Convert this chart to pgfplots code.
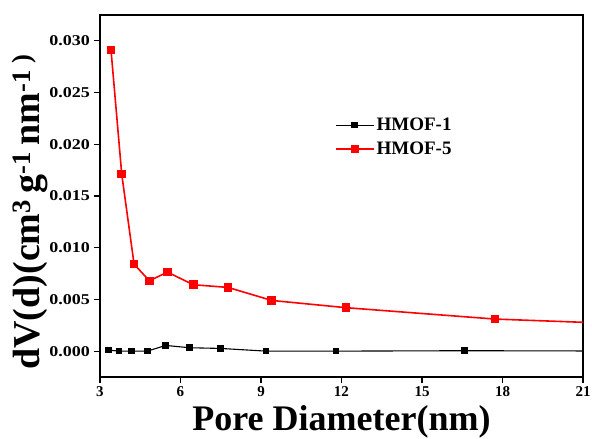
\documentclass[border=0pt]{standalone}
\usepackage{pgfplots}
\pgfplotsset{compat=1.18}
\usepackage{fontspec}
\setmainfont{Liberation Serif}
\begin{document}
\begin{tikzpicture}
\begin{axis}[
  name=ax,
  scale only axis,
  width=483pt, height=362pt,
  xmin=3, xmax=21, ymin=-0.0025, ymax=0.0325,
  xtick={3,6,...,21},
  ytick={0,0.005,0.01,0.015,0.02,0.025,0.03},
  scaled y ticks=false,
  yticklabel style={font=\fontsize{15}{17}\selectfont\bfseries, xscale=1.2,
    /pgf/number format/fixed, /pgf/number format/fixed zerofill, /pgf/number format/precision=3},
  /pgf/number format/assume math mode=true,
  xticklabel style={font=\fontsize{15}{17}\selectfont\bfseries},
  tick align=outside,
  xtick pos=bottom, ytick pos=left,
  major tick length=6pt,
  axis line style={line width=1.6pt},
  every tick/.style={black, line width=1.2pt},
  xlabel={Pore Diameter(nm)},
  xlabel style={font=\fontsize{36}{40}\selectfont\bfseries, yshift=-2pt},
  ylabel={dV(d)(cm\textsuperscript{3}\,g\textsuperscript{-1}\,nm\textsuperscript{-1 )}},
  ylabel style={font=\fontsize{38}{42}\selectfont\bfseries, yshift=-6pt, xshift=-16pt},
  legend style={draw=none, fill=none, at={(0.48,0.727)}, anchor=north west,
    font=\fontsize{19}{22}\selectfont\bfseries, row sep=6pt},
  legend cell align=left,
  legend image code/.code={\draw[mark repeat=2,mark phase=2,#1] plot coordinates {(0pt,0pt) (19pt,0pt) (38pt,0pt)};},
  clip=true,
]
\addplot[black, line width=1.1pt, mark=square*, mark size=2.8pt] coordinates {
  (3.31,0.0001) (3.71,0.0) (4.17,0.0) (4.76,0.0) (5.45,0.00055)
  (6.33,0.00033) (7.50,0.00026) (9.19,0.0) (11.8,0.0) (16.59,0.00004) (24,0.0)
};
\addlegendentry{HMOF-1}
\addplot[red, line width=1.6pt, mark=square*, mark size=3.5pt, mark options={fill=red}] coordinates {
  (3.41,0.02913) (3.81,0.01711) (4.27,0.00841) (4.84,0.0068) (5.51,0.00764)
  (6.48,0.00642) (7.77,0.00616) (9.40,0.0049) (12.17,0.0042) (17.72,0.0031) (24,0.0025)
};
\addlegendentry{HMOF-5}
\end{axis}
\pgfresetboundingbox
\path ([xshift=-100pt,yshift=-62pt]ax.south west) rectangle ([xshift=9pt,yshift=15pt]ax.north east);
\end{tikzpicture}
\end{document}
